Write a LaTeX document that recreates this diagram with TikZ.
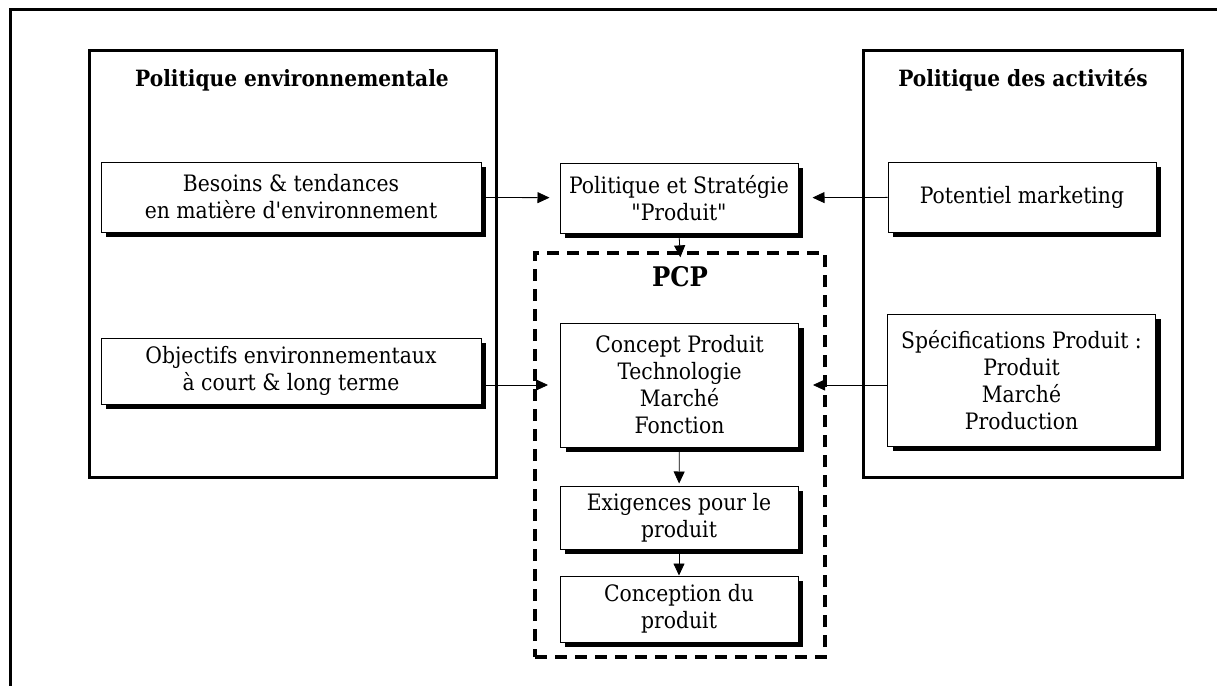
\documentclass[tikz,border=0pt]{standalone}
\usepackage{fontspec}
\setmainfont{DejaVu Serif Condensed}
\usetikzlibrary{positioning,arrows.meta,shadows}

\begin{document}
\begin{tikzpicture}[x=0.5pt,y=-0.5pt,font=\fontsize{11.3}{13.5}\selectfont]
  \tikzset{
    frame/.style={line width=1.5pt},
    grp/.style={draw,line width=1.5pt},
    box/.style={draw,line width=0.5pt,fill=white,align=center,inner sep=2pt,
      drop shadow={shadow xshift=2.5pt,shadow yshift=-2.5pt,fill=black,opacity=1}},
    wide/.style={box,minimum width=190pt},
    mid/.style={box,minimum width=119pt},
    rbox/.style={box,minimum width=134pt},
    ttl/.style={font=\fontsize{11.2}{13}\selectfont\bfseries},
    pcpbox/.style={draw,line width=1.6pt,dash pattern=on 6pt off 4pt},
    >={Triangle[length=6pt,width=5.5pt]}
  }
  \useasboundingbox (0,0) rectangle (1217,686);
  \draw[frame] (10,690) -- (10,9) -- (1220,9);

  % groupes
  \node[grp,minimum width=203.5pt,minimum height=213.5pt] (envgrp) at (292.5,263.5) {};
  \node[grp,minimum width=159.5pt,minimum height=213.5pt] (actgrp) at (1022.5,263.5) {};
  \node[ttl] (envttl) at (292,80) {Politique environnementale};
  \node[ttl] (actttl) at (1023,80) {Politique des activités};

  % gauche
  \node[wide,minimum height=35pt] (besoins) at (291,197)
     {Besoins \& tendances\\en matière d\textquotesingle environnement};
  \node[wide,minimum height=33pt] (objectifs) at (291,371)
     {Objectifs environnementaux\\à court \& long terme};

  % centre
  \node[mid,minimum height=35pt] (strat) at (679,198)
     {Politique et Stratégie\\\textquotedbl Produit\textquotedbl};
  \node[pcpbox,minimum width=145pt,minimum height=202pt] (pcp) at (680,455) {};
  \node[font=\fontsize{13.5}{15}\selectfont\bfseries] (pcpttl) at (680,277) {PCP};
  \node[mid,minimum height=62pt] (concept) at (679.5,385)
     {Concept Produit\\Technologie\\Marché\\Fonction};
  \node[mid,minimum height=31.5pt] (exig) at (679,517.5)
     {Exigences pour le\\produit};
  \node[mid,minimum height=33pt] (concep) at (679,609)
     {Conception du\\produit};

  % droite
  \node[rbox,minimum height=35pt] (potentiel) at (1022,197) {Potentiel marketing};
  \node[rbox,minimum height=66pt] (spec) at (1021.5,380)
     {Spécifications Produit :\\Produit\\Marché\\Production};

  % liens
  \draw[->,shorten >=5pt] (besoins) -- (strat);
  \draw[->,shorten >=7pt] (potentiel) -- (strat);
  \draw[->,shorten >=6pt] (objectifs.east |- concept.west) -- (concept.west);
  \draw[->,shorten >=7pt] (spec.west |- concept.east) -- (concept.east);
  \draw[->,shorten >=-3pt] (strat.south) -- (pcp.north);
  \draw[->,shorten >=1pt] (concept) -- (exig);
  \draw[->] (exig) -- (concep);
\end{tikzpicture}
\end{document}
